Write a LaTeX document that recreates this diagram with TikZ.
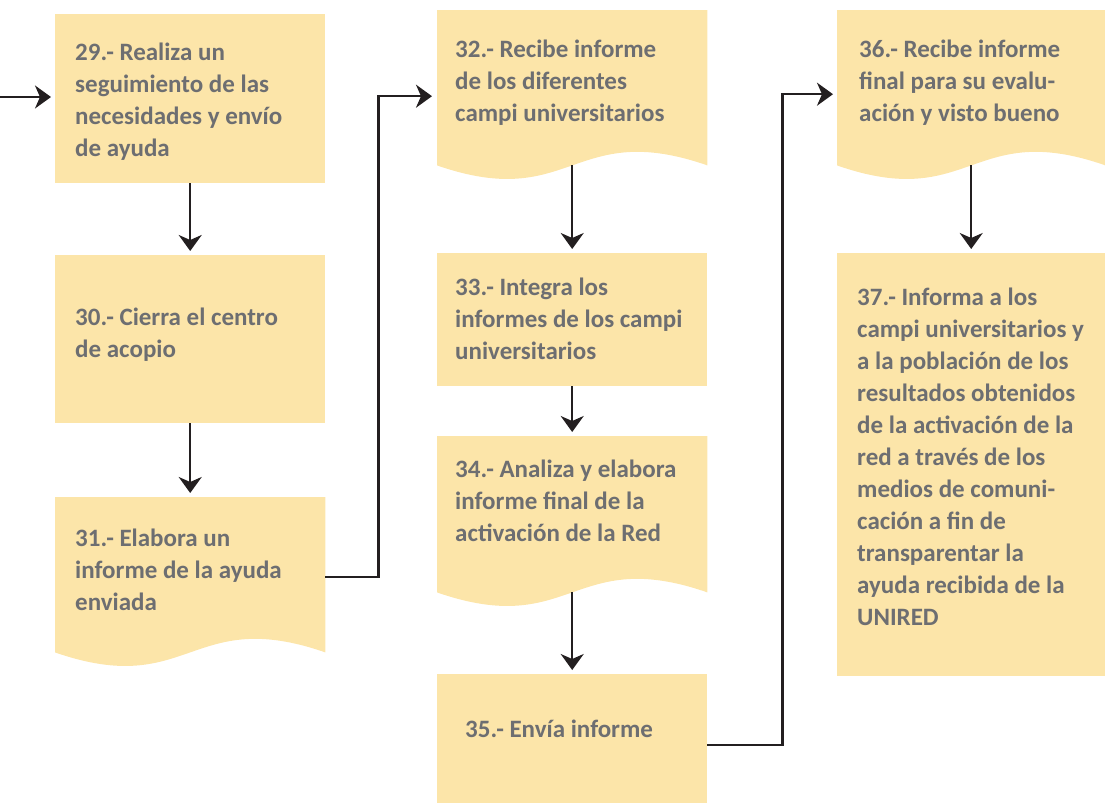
\documentclass[tikz,border=0pt]{standalone}
\usepackage{fontspec}
\setmainfont{Carlito}
\usetikzlibrary{arrows.meta,calc}
\definecolor{boxfill}{HTML}{FCE5A9}
\definecolor{txtgray}{HTML}{6D6E71}
\definecolor{linecol}{HTML}{231F20}
\tikzset{
  box/.style={draw=none,fill=boxfill,anchor=north west,inner sep=0pt,minimum width=#1},
  box/.default={270pt},
  docbox/.style={draw=none,anchor=north west,inner sep=0pt,minimum width=#1},
  docbox/.default={270pt},
  lbl/.style={anchor=base west,inner sep=0pt,align=left,text=txtgray,
    font=\fontsize{25}{32}\selectfont\bfseries},
  arr/.style={draw=linecol,line width=2.3pt,-{Stealth[length=16pt,width=23pt,inset=5pt]},shorten >=4pt},
  wavefill/.style={fill=boxfill}
}
\newcommand{\wavebox}[1]{%
  \fill[wavefill] (#1.south west) -- (#1.north west) -- (#1.north east) -- (#1.south east)
    .. controls ($(#1.south)+(0,-47)$) and ($(#1.south)+(0,47)$) .. (#1.south west) -- cycle;}
\begin{document}
\begin{tikzpicture}[x=1pt,y=-1pt]
\useasboundingbox (0,0) rectangle (1105,803);
% plain boxes
\node[box,minimum height=169pt] (b29) at (55,14) {};
\node[box,minimum height=168pt] (b30) at (55,255) {};
\node[box,minimum height=133pt] (b33) at (437,253) {};
\node[box,minimum height=129pt] (b35) at (437,674) {};
\node[box=268pt,minimum height=423pt] (b37) at (837,253) {};
% document boxes
\node[docbox,minimum height=155pt] (b31) at (55,497) {};
\node[docbox,minimum height=155pt] (b32) at (437,10) {};
\node[docbox,minimum height=156pt] (b34) at (437,436) {};
\node[docbox=268pt,minimum height=155pt] (b36) at (837,10) {};
\wavebox{b31}
\wavebox{b32}
\wavebox{b34}
\wavebox{b36}
% texts (anchor = baseline of last line)
\node[lbl] (t29) at (75,156) {29.- Realiza un\\seguimiento de las\\necesidades y envío\\de ayuda};
\node[lbl] (t30) at (75,357) {30.- Cierra el centro\\de acopio};
\node[lbl] (t31) at (75,610) {31.- Elabora un\\informe de la ayuda\\enviada};
\node[lbl] (t32) at (455,121) {32.- Recibe informe\\de los diferentes\\campi universitarios};
\node[lbl] (t33) at (455,359) {33.- Integra los\\informes de los campi\\universitarios};
\node[lbl] (t34) at (455,541) {34.- Analiza y elabora\\informe final de la\\activación de la Red};
\node[lbl] (t35) at (465,737) {35.- Envía informe};
\node[lbl] (t36) at (859,121) {36.- Recibe informe\\final para su evalu-\\ación y visto bueno};
\node[lbl] (t37) at (857,625) {37.- Informa a los\\campi universitarios y\\a la población de los\\resultados obtenidos\\de la activación de la\\red a través de los\\medios de comuni-\\cación a fin de\\transparentar la\\ayuda recibida de la\\UNIRED};
% connectors
\coordinate (start) at (0,97);
\draw[arr] (start) -- (start -| b29.west);
\draw[arr] (b29.south) -- (b30.north);
\draw[arr] (b30.south) -- (b31.north);
\draw[arr,shorten >=5pt] ([yshift=-2.5pt]b31.east) -- ++(53,0) |- ([yshift=-8.5pt]b32.west);
\draw[arr] (b32.south) -- (b33.north);
\draw[arr] (b33.south) -- (b34.north);
\draw[arr] (b34.south) -- (b35.north);
\draw[arr] ([yshift=-6.5pt]b35.east) -- ++(75,0) |- ([yshift=-6.5pt]b36.west);
\draw[arr] (b36.south) -- (b37.north);
\end{tikzpicture}
\end{document}
